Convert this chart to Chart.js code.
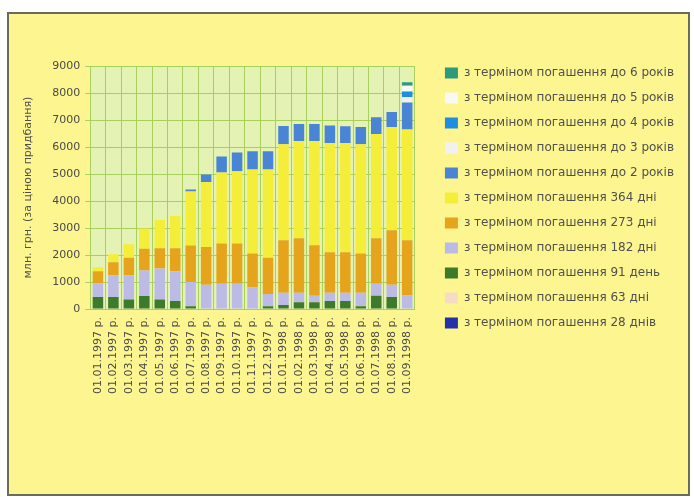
<!DOCTYPE html>
<html>
<head>
<meta charset="utf-8">
<script src="https://cdn.jsdelivr.net/npm/chart.js@4/dist/chart.umd.min.js"></script>
<style>
  body { margin: 0; background: #ffffff; }
  #frame {
    position: absolute; left: 7px; top: 12px; width: 679px; height: 480px;
    border: 2px solid #6b6b5a; background: #fdf58f;
  }
  #wrap { position: absolute; left: 0; top: 0; width: 679px; height: 480px; }
</style>
</head>
<body>
<div id="frame"><div id="wrap"><canvas id="chart"></canvas></div></div>
<script>
"use strict";

// Categories
var dates = ["01.01.1997 р.", "01.02.1997 р.", "01.03.1997 р.", "01.04.1997 р.", "01.05.1997 р.",
    "01.06.1997 р.", "01.07.1997 р.", "01.08.1997 р.", "01.09.1997 р.", "01.10.1997 р.",
    "01.11.1997 р.", "01.12.1997 р.", "01.01.1998 р.", "01.02.1998 р.", "01.03.1998 р.",
    "01.04.1998 р.", "01.05.1998 р.", "01.06.1998 р.", "01.07.1998 р.", "01.08.1998 р.",
    "01.09.1998 р."];

// Series values, mln UAH (stack order bottom to top)
var days28  = [0, 0, 0, 0, 0, 0, 0, 0, 0, 0, 0, 0, 0, 0, 0, 0, 0, 0, 0, 0, 0];
var days63  = [0, 0, 0, 0, 0, 0, 0, 0, 0, 0, 0, 0, 0, 0, 0, 0, 0, 0, 0, 0, 0];
var days91  = [450, 450, 350, 480, 350, 300, 100, 0, 0, 0, 0, 100, 150, 250, 250, 300, 300, 100, 490, 450, 0];
var days182 = [500, 800, 900, 950, 1150, 1100, 900, 900, 940, 940, 800, 460, 450, 350, 240, 300, 300, 500, 450, 450, 500];
var days273 = [450, 480, 650, 800, 750, 850, 1350, 1400, 1490, 1490, 1260, 1340, 1950, 2020, 1870, 1500, 1500, 1460, 1680, 2020, 2050];
var days364 = [150, 300, 500, 750, 1050, 1200, 2000, 2400, 2630, 2670, 3110, 3270, 3550, 3600, 3860, 4050, 4050, 4040, 3860, 3820, 4100];
var years2  = [0, 0, 0, 0, 0, 0, 80, 280, 590, 700, 670, 670, 680, 630, 630, 650, 620, 640, 620, 560, 1000];
var years3  = [0, 0, 0, 0, 0, 0, 0, 0, 0, 0, 0, 0, 0, 0, 0, 0, 0, 0, 0, 0, 190];
var years4  = [0, 0, 0, 0, 0, 0, 0, 0, 0, 0, 0, 0, 0, 0, 0, 0, 0, 0, 0, 0, 220];
var years5  = [0, 0, 0, 0, 0, 0, 0, 0, 0, 0, 0, 0, 0, 0, 0, 0, 0, 0, 0, 0, 210];
var years6  = [0, 0, 0, 0, 0, 0, 0, 0, 0, 0, 0, 0, 0, 0, 0, 0, 0, 0, 0, 0, 130];

var yTicks = [0, 1000, 2000, 3000, 4000, 5000, 6000, 7000, 8000, 9000];

var series = [
    ["з терміном погашення 28 днів", days28, "#2233aa"],
    ["з терміном погашення 63 дні", days63, "#f6dcc4"],
    ["з терміном погашення 91 день", days91, "#3d7a2c"],
    ["з терміном погашення 182 дні", days182, "#bcbbe6"],
    ["з терміном погашення 273 дні", days273, "#e6a41c"],
    ["з терміном погашення 364 дні", days364, "#f4ee3a"],
    ["з терміном погашення до 2 років", years2, "#4a84d4"],
    ["з терміном погашення до 3 років", years3, "#f3f0f2"],
    ["з терміном погашення до 4 років", years4, "#1f8ee0"],
    ["з терміном погашення до 5 років", years5, "#f8f8f4"],
    ["з терміном погашення до 6 років", years6, "#2f9a7a"]
];

var fontMain = { family: "DejaVu Sans", size: 11 };

// pale green plot background
var plotBg = {
    id: "plotBg",
    beforeDraw: function (chart) {
        var a = chart.chartArea, c = chart.ctx;
        c.save();
        c.fillStyle = "#e4f3b4";
        c.fillRect(a.left, a.top, a.right - a.left, a.bottom - a.top);
        c.restore();
    }
};

// legend sits a bit higher and further right than the layout gives
var legendShift = {
    id: "legendShift",
    afterLayout: function (chart) {
        var lg = chart.legend;
        if (lg) {
            lg.top -= 12;
            lg.bottom -= 12;
            lg.left += 17;
            lg.right += 17;
        }
    }
};

var ctx = document.getElementById("chart").getContext("2d");
var myChart = new Chart(ctx, {
    type: "bar",
    data: {
        labels: dates,
        datasets: series.map(function (s) {
            return {
                label: s[0],
                data: s[1],
                backgroundColor: s[2],
                borderWidth: 0,
                barPercentage: 0.68,
                categoryPercentage: 1
            };
        })
    },
    options: {
        responsive: true,
        maintainAspectRatio: false,
        animation: false,
        layout: { padding: { top: 52, bottom: 92, left: 13, right: 21 } },
        plugins: {
            tooltip: { enabled: false },
            legend: {
                position: "right",
                align: "start",
                reverse: true,
                maxWidth: 300,
                labels: {
                    boxWidth: 13,
                    boxHeight: 11,
                    padding: 13,
                    color: "#505050",
                    font: { family: "DejaVu Sans", size: 12 }
                }
            }
        },
        scales: {
            x: {
                stacked: true,
                grid: { color: "#a9cf5c", drawTicks: false },
                border: { color: "#a9cf5c" },
                ticks: {
                    minRotation: 90,
                    maxRotation: 90,
                    autoSkip: false,
                    padding: 8,
                    color: "#4a4a4a",
                    font: fontMain
                }
            },
            y: {
                stacked: true,
                min: 0,
                max: 9000,
                afterBuildTicks: function (axis) {
                    axis.ticks = yTicks.map(function (v) { return { value: v }; });
                },
                grid: { color: "#a9cf5c", drawTicks: true, tickLength: 5 },
                border: { color: "#a9cf5c" },
                title: {
                    display: true,
                    text: "млн. грн. (за ціною придбання)",
                    color: "#505050",
                    font: fontMain,
                    padding: { top: 0, bottom: 12 }
                },
                ticks: {
                    padding: 5,
                    color: "#4a4a4a",
                    font: fontMain,
                    callback: function (v) { return String(v); }
                }
            }
        }
    },
    plugins: [plotBg, legendShift]
});
</script>
</body>
</html>
